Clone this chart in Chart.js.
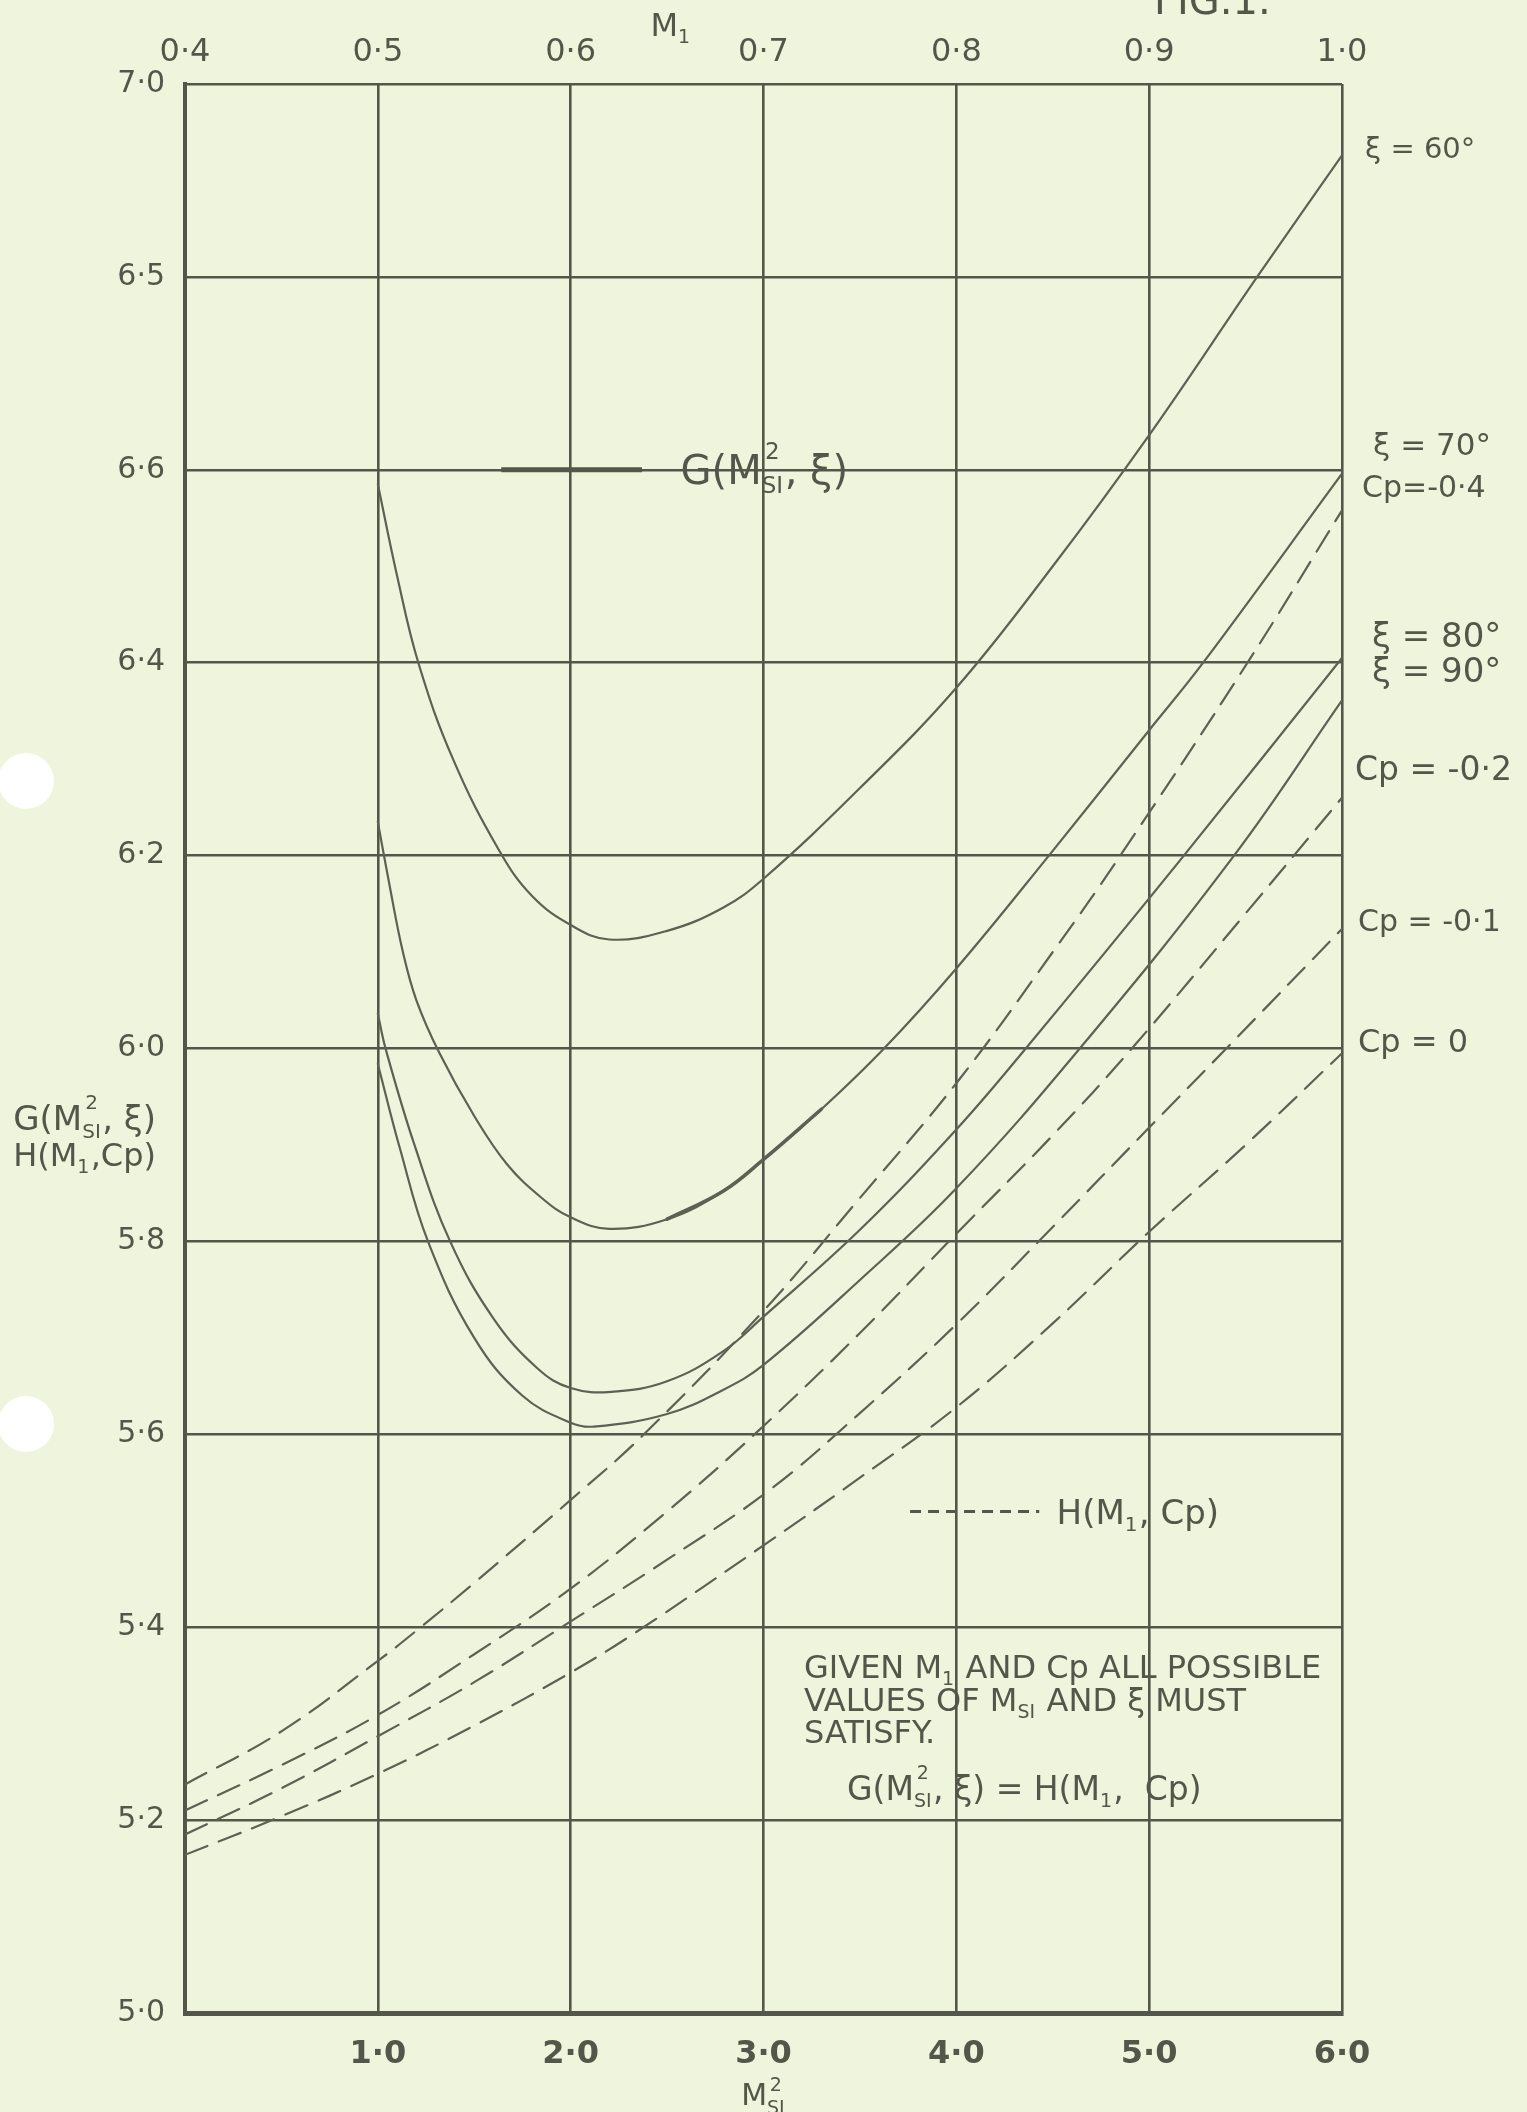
<!DOCTYPE html>
<html>
<head>
<meta charset="utf-8">
<script src="https://cdn.jsdelivr.net/npm/chart.js@4.4.1/dist/chart.umd.min.js"></script>
<style>
html,body{margin:0;padding:0;background:#eef5dc;}
canvas{display:block;}
</style>
</head>
<body>
<canvas id="c" width="1527" height="2112"></canvas>
<script>
// ---------- tick labels ----------
const xTickValues = [0, 1, 2, 3, 4, 5, 6];
const xTickLabels = ['', '1·0', '2·0', '3·0', '4·0', '5·0', '6·0'];
const topTickValues = [0.4, 0.5, 0.6, 0.7, 0.8, 0.9, 1.0];
const topTickLabels = ['0·4', '0·5', '0·6', '0·7', '0·8', '0·9', '1·0'];
const yTickValues = [5.0, 5.2, 5.4, 5.6, 5.8, 6.0, 6.2, 6.4, 6.6, 6.8, 7.0];
const yTickLabels = ['5·0', '5·2', '5·4', '5·6', '5·8', '6·0', '6·2', '6·4', '6·6', '6·5', '7·0'];

// ---------- G(Msi^2, xi) solid curves ----------
const xi60Msi = [1.0, 1.1, 1.21, 1.39, 1.63, 1.8, 2.0, 2.2, 2.5, 2.79, 3.0, 3.5, 4.0, 4.5, 5.0, 5.56, 6.0];
const xi60G   = [6.585, 6.49, 6.40, 6.30, 6.205, 6.158, 6.128, 6.113, 6.122, 6.146, 6.176, 6.27, 6.374, 6.50, 6.636, 6.80, 6.926];

const xi70Msi = [1.0, 1.06, 1.13, 1.2, 1.32, 1.5, 1.67, 1.85, 2.0, 2.2, 2.5, 2.79, 3.0, 3.3, 3.625, 4.0, 4.48, 5.0, 5.28, 6.0];
const xi70G   = [6.235, 6.17, 6.10, 6.05, 5.995, 5.93, 5.88, 5.845, 5.825, 5.813, 5.823, 5.852, 5.885, 5.937, 6.0, 6.083, 6.2, 6.33, 6.40, 6.596];

const xi80Msi = [1.0, 1.04, 1.19, 1.375, 1.6, 1.83, 2.0, 2.21, 2.5, 2.79, 3.0, 3.5, 4.0, 4.36, 5.16, 6.0];
const xi80G   = [6.036, 6.0, 5.90, 5.80, 5.72, 5.668, 5.648, 5.644, 5.655, 5.686, 5.722, 5.812, 5.916, 6.0, 6.195, 6.405];

const xi90Msi = [1.0, 1.115, 1.26, 1.5, 1.75, 2.0, 2.12, 2.5, 2.79, 3.0, 3.5, 4.0, 4.64, 5.44, 6.0];
const xi90G   = [5.984, 5.896, 5.80, 5.70, 5.64, 5.612, 5.608, 5.621, 5.646, 5.672, 5.76, 5.855, 6.0, 6.2, 6.361];

// ---------- H(M1, Cp) dashed curves ----------
const cpM04Msi = [0, 0.5, 1.0, 1.21, 1.5, 2.0, 2.38, 3.0, 3.5, 4.0, 4.5, 4.85, 5.51, 6.0];
const cpM04H   = [5.237, 5.292, 5.365, 5.398, 5.446, 5.532, 5.60, 5.728, 5.845, 5.964, 6.10, 6.2, 6.40, 6.558];

const cpM02Msi = [0, 0.5, 1.0, 1.5, 2.0, 2.5, 2.97, 3.5, 4.0, 4.5, 4.91, 5.5, 6.0];
const cpM02H   = [5.21, 5.257, 5.309, 5.372, 5.44, 5.52, 5.603, 5.705, 5.808, 5.91, 6.0, 6.14, 6.26];

const cpM01Msi = [0, 0.5, 1.0, 1.5, 2.0, 2.5, 3.03, 3.5, 4.0, 4.5, 5.0, 5.4, 6.0];
const cpM01H   = [5.185, 5.233, 5.287, 5.343, 5.406, 5.47, 5.542, 5.622, 5.714, 5.815, 5.918, 6.0, 6.124];

const cp0Msi = [0, 0.5, 1.0, 1.5, 2.0, 2.34, 3.03, 3.5, 4.0, 4.5, 5.0, 5.5, 6.0];
const cp0H   = [5.164, 5.204, 5.248, 5.298, 5.353, 5.395, 5.489, 5.555, 5.628, 5.715, 5.81, 5.90, 5.995];

// ---------- legend keys ----------
const gKeyMsi = [1.64, 2.37];
const gKeyVal = [6.6, 6.6];
const hKeyMsi = [3.76, 4.43];
const hKeyVal = [5.52, 5.52];

// ---------- styling ----------
const INK = '#55564a';
const CURVE = '#5f6054';
const FAM = '"DejaVu Sans", "Liberation Sans", sans-serif';

function pts(xs, ys) { return xs.map((x, i) => ({ x: x, y: ys[i] })); }
function curve(label, xs, ys, dashed, width) {
  return {
    label: label, data: pts(xs, ys), showLine: true,
    borderColor: CURVE, borderWidth: width || 2.2, pointRadius: 0,
    tension: 0.4, fill: false,
    borderDash: dashed ? [24, 12] : [],
    borderCapStyle: 'round'
  };
}
function subset(xs, ys, lo, hi) {
  const a = [], b = [];
  xs.forEach((x, i) => { if (x >= lo && x <= hi) { a.push(x); b.push(ys[i]); } });
  return [a, b];
}

// rich text: parts = strings or {sub, sup}
function drawRich(ctx, parts, x, cy, size, align, opt) {
  opt = opt || {};
  const subScale = opt.subScale || 0.58;
  const subDy = opt.subDy !== undefined ? opt.subDy : 0.22;
  const supDy = opt.supDy !== undefined ? opt.supDy : -0.62;
  const weight = opt.weight || 'normal';
  const big = weight + ' ' + size + 'px ' + FAM;
  const small = weight + ' ' + Math.round(size * subScale) + 'px ' + FAM;
  const base = cy + size * 0.36;
  ctx.save();
  ctx.fillStyle = INK;
  ctx.textAlign = 'left';
  ctx.textBaseline = 'alphabetic';
  const items = [];
  let w = 0;
  parts.forEach(p => {
    if (typeof p === 'string') {
      ctx.font = big;
      items.push({ t: p, f: big, dy: 0, x: w });
      w += ctx.measureText(p).width;
    } else {
      ctx.font = small;
      const ws = p.sub ? ctx.measureText(p.sub).width : 0;
      const wp = p.sup ? ctx.measureText(p.sup).width : 0;
      const ww = Math.max(ws, wp);
      if (p.sub) items.push({ t: p.sub, f: small, dy: size * subDy, x: w });
      if (p.sup) items.push({ t: p.sup, f: small, dy: size * supDy, x: w + (ww - wp) / 2 });
      w += ww + size * 0.04;
    }
  });
  const x0 = align === 'right' ? x - w : (align === 'center' ? x - w / 2 : x);
  items.forEach(it => { ctx.font = it.f; ctx.fillText(it.t, x0 + it.x, base + it.dy); });
  ctx.restore();
  return w;
}

const paperPlugin = {
  id: 'paper',
  beforeDraw(chart) {
    const ctx = chart.ctx;
    ctx.save();
    ctx.fillStyle = '#eef5dc';
    ctx.fillRect(0, 0, chart.width, chart.height);
    // punch holes in the sheet
    ctx.fillStyle = '#ffffff';
    [[26, 781], [26, 1424]].forEach(c => {
      ctx.beginPath(); ctx.arc(c[0], c[1], 28, 0, Math.PI * 2); ctx.fill();
    });
    ctx.restore();
  },
  afterDraw(chart) {
    const ctx = chart.ctx;
    const xs = chart.scales.x, ys = chart.scales.y;
    const px = v => xs.getPixelForValue(v);
    const py = v => ys.getPixelForValue(v);

    // figure caption (cut at top edge)
    ctx.save();
    ctx.fillStyle = INK;
    ctx.font = '40px ' + FAM;
    ctx.textBaseline = 'alphabetic';
    ctx.fillText('FIG.1.', 1154, 14);
    ctx.restore();

    // axis titles
    drawRich(ctx, ['M', { sub: '1' }], px(2.52), 24, 32, 'center');
    drawRich(ctx, ['M', { sub: 'SI', sup: '2' }], px(3.0), 2094, 30, 'center', { subScale: 0.62, subDy: 0.3, supDy: -0.45 });
    drawRich(ctx, ['G(M', { sub: 'SI', sup: '2' }, ', ξ)'], 156, 1118, 34, 'right');
    drawRich(ctx, ['H(M', { sub: '1' }, ',Cp)'], 156, 1154, 32, 'right');

    // legend texts
    drawRich(ctx, ['G(M', { sub: 'SI', sup: '2' }, ', ξ)'], px(2.57), py(6.6), 40, 'left');
    drawRich(ctx, ['H(M', { sub: '1' }, ', Cp)'], px(4.52), py(5.52), 34, 'left');

    // note block
    drawRich(ctx, ['GIVEN M', { sub: '1' }, ' AND Cp ALL POSSIBLE'], 804, 1666, 32, 'left');
    drawRich(ctx, ['VALUES OF M', { sub: 'SI' }, ' AND ξ MUST'], 804, 1699, 32, 'left');
    drawRich(ctx, ['SATISFY.'], 804, 1731, 32, 'left');
    drawRich(ctx, ['G(M', { sub: 'SI', sup: '2' }, ', ξ) = H(M', { sub: '1' }, ',  Cp)'], 847, 1788, 33, 'left');

    // curve labels at right
    const lx = chart.chartArea.right;
    drawRich(ctx, ['ξ = 60°'], lx + 23, 148, 29, 'left');
    drawRich(ctx, ['ξ = 70°'], lx + 31, 444, 31, 'left');
    drawRich(ctx, ['Cp=-0·4'], lx + 20, 486, 30, 'left');
    drawRich(ctx, ['ξ = 80°'], lx + 30, 635, 34, 'left');
    drawRich(ctx, ['ξ = 90°'], lx + 30, 670, 34, 'left');
    drawRich(ctx, ['Cp = -0·2'], lx + 13, 768, 33, 'left');
    drawRich(ctx, ['Cp = -0·1'], lx + 16, 920, 30, 'left');
    drawRich(ctx, ['Cp = 0'], lx + 16, 1040, 32, 'left');
  }
};

const thick70 = subset(xi70Msi, xi70G, 2.5, 3.3);

const datasets = [
  curve('ξ = 60°', xi60Msi, xi60G, false),
  curve('ξ = 70°', xi70Msi, xi70G, false),
  curve('ξ = 70° (inked)', thick70[0], thick70[1], false, 3.6),
  curve('ξ = 80°', xi80Msi, xi80G, false),
  curve('ξ = 90°', xi90Msi, xi90G, false),
  curve('Cp = -0.4', cpM04Msi, cpM04H, true),
  curve('Cp = -0.2', cpM02Msi, cpM02H, true),
  curve('Cp = -0.1', cpM01Msi, cpM01H, true),
  curve('Cp = 0', cp0Msi, cp0H, true),
  { label: 'G key', data: pts(gKeyMsi, gKeyVal), showLine: true, borderColor: INK, borderWidth: 5, pointRadius: 0 },
  { label: 'H key', data: pts(hKeyMsi, hKeyVal), showLine: true, borderColor: INK, borderWidth: 3, pointRadius: 0, borderDash: [11, 7] }
];

new Chart(document.getElementById('c'), {
  type: 'scatter',
  data: { datasets: datasets },
  plugins: [paperPlugin],
  options: {
    responsive: false,
    animation: false,
    devicePixelRatio: 1,
    layout: { padding: { left: 0, right: 185, top: 0, bottom: 0 } },
    plugins: { legend: { display: false }, tooltip: { enabled: false }, title: { display: false } },
    scales: {
      x: {
        type: 'linear', position: 'bottom', min: 0, max: 6,
        afterBuildTicks: s => { s.ticks = xTickValues.map(v => ({ value: v })); },
        afterFit: s => { s.height = 99; },
        ticks: {
          autoSkip: false, maxRotation: 0, color: INK, padding: 22,
          font: { family: FAM, size: 32, weight: 'bold' },
          callback: (v, i) => xTickLabels[i]
        },
        grid: { color: INK, lineWidth: 2.6, drawTicks: false },
        border: { color: INK, width: 5 }
      },
      x2: {
        type: 'linear', position: 'top', min: 0.4, max: 1.0,
        afterBuildTicks: s => { s.ticks = topTickValues.map(v => ({ value: v })); },
        afterFit: s => { s.height = 84; },
        ticks: {
          autoSkip: false, maxRotation: 0, color: INK, padding: 12,
          font: { family: FAM, size: 32 },
          callback: (v, i) => topTickLabels[i]
        },
        grid: { display: false, drawTicks: false },
        border: { display: false }
      },
      y: {
        type: 'linear', min: 5, max: 7,
        afterBuildTicks: s => { s.ticks = yTickValues.map(v => ({ value: v })); },
        afterFit: s => { s.width = 185; },
        ticks: {
          autoSkip: false, color: INK, padding: 20,
          font: { family: FAM, size: 30 },
          callback: (v, i) => yTickLabels[i]
        },
        grid: { color: INK, lineWidth: 2.6, drawTicks: false },
        border: { color: INK, width: 4 }
      }
    }
  }
});
</script>
</body>
</html>
